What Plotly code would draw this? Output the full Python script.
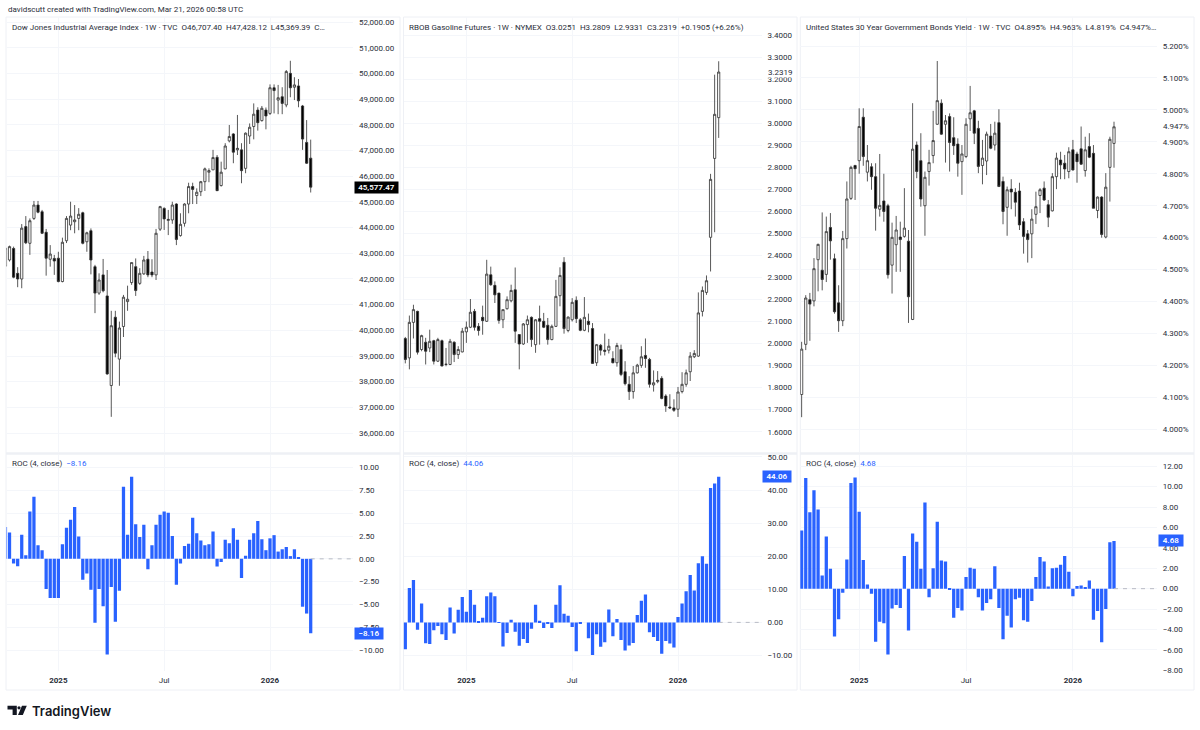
import pandas as pd
import plotly.graph_objects as go

# ---------- data (oldest week first; last bar = week of 2026-03-16) ----------
last_week = "2026-03-16"
x_tick_dates = ["2025-01-06", "2025-07-07", "2026-01-05"]
x_tick_text = ["<b>2025</b>", "Jul", "<b>2026</b>"]

dow_open = [42500,42740,43190,42220,42000,44040,43390,44360,44880,44620,43820,42770,42800,42810,41900,43490,44100,44230,44360,44580,43450,43880,42480,41450,42160,41340,37850,40510,38880,40150,41120,41860,42480,41830,42200,42770,42270,42160,43940,44750,44280,44300,44920,43690,44170,44920,45600,45250,45400,45790,46160,46250,46740,45640,46290,47380,47650,47030,47030,46310,47570,47940,48580,48170,48580,48450,49450,48970,49100,48780,50010,49470,49520,48740,47320,46707.40]
dow_high = [43350,43300,43260,42460,44140,44450,44360,45040,45040,44690,43950,43320,42940,43060,43610,44450,45010,44880,44760,44620,43840,43970,42550,42220,42780,42350,40760,40760,40340,41380,41740,42650,42800,42420,42900,43090,42770,43950,44850,44790,44690,45010,44950,44560,44950,45750,45750,45530,45820,46340,46310,47030,46830,46570,47290,48000,47680,48390,47290,47710,48060,48840,48690,48740,48680,49580,49580,49560,49470,50140,50500,49860,49790,48780,48190,47428.12]
dow_low = [42290,42680,42030,41680,41640,43360,42940,44300,44560,43750,42130,42480,42160,41870,41870,43400,43900,43780,43900,43350,43060,42180,40670,41380,41480,38270,36630,38950,37840,39740,40760,41770,41340,41770,42160,42070,42070,41960,43870,43910,43710,44150,43320,43650,44040,44560,44920,44920,45230,45430,45770,46250,45430,45600,46270,47320,46510,46830,45730,46120,47260,47440,47780,48130,47830,48390,48450,48420,48420,48690,49080,48970,48690,47030,46480,45369.39]
dow_close = [43200,43260,42070,42000,43980,43410,44270,44880,44600,43780,42810,42970,42700,41900,43430,44360,44450,44300,44520,43390,43800,42740,41450,41960,41540,38300,40180,39110,40090,41290,41210,42640,41550,42220,42740,42160,42160,43780,44820,44340,44320,44880,43540,44130,44920,45600,45490,45380,45790,46290,46220,46730,45440,46160,47180,47550,46940,47090,46220,47680,47910,48420,48090,48650,48350,49450,49340,49060,48840,50080,49450,49560,48940,47450,46510,45577.47]
dow_roc = [3.5,2.9,-0.5,-0.8,2.65,0.4,5.2,6.8,1.5,0.95,-3.3,-4.3,-4.3,-4.3,1.6,3.4,4.3,5.7,2.45,-2.3,-1.6,-3.4,-7.0,-3.3,-5.2,-10.5,-3.1,-6.9,-3.5,7.9,2.65,9.0,3.8,2.4,3.75,-1.15,1.5,3.75,4.85,5.2,5.05,2.5,-2.85,-0.5,1.4,1.65,4.5,2.8,2.0,1.5,1.6,3.0,-0.85,-0.35,2.1,1.7,3.35,2.1,-2.1,0.35,2.1,2.8,4.15,2.15,0.95,2.25,2.6,0.8,1.05,1.3,0.3,1.05,0.2,-5.25,-6.0,-8.16]

gas_open = [2.0226,1.935,2.096,2.146,1.973,2.006,1.98,2.013,1.92,2.013,1.905,1.905,2.006,1.95,1.962,2.053,2.074,2.146,2.078,2.119,2.101,2.312,2.264,2.229,2.108,2.158,2.194,2.244,2.041,1.998,2.086,2.119,1.995,2.113,2.101,2.083,2.018,2.078,2.217,2.369,2.059,2.108,2.196,2.108,2.06,2.101,2.068,1.913,1.992,1.97,1.97,1.932,1.913,1.973,1.872,1.815,1.782,1.867,1.901,1.946,1.928,1.812,1.827,1.842,1.762,1.712,1.708,1.702,1.782,1.815,1.872,1.94,1.943,2.146,2.232,2.482,2.84,3.0251]
gas_high = [2.03,2.127,2.176,2.149,2.04,2.026,2.063,2.017,2.026,2.018,1.98,2.021,2.01,1.988,2.071,2.1,2.202,2.157,2.093,2.172,2.38,2.349,2.282,2.23,2.154,2.214,2.267,2.345,2.041,2.093,2.127,2.123,2.111,2.172,2.139,2.116,2.086,2.289,2.346,2.392,2.123,2.206,2.214,2.116,2.211,2.136,2.093,1.998,1.998,2.045,2.021,1.965,2.003,1.995,1.92,1.852,1.898,1.908,1.988,2.023,1.935,1.878,1.875,1.852,1.77,1.77,1.747,1.803,1.87,1.882,1.961,1.97,2.232,2.259,2.309,2.77,3.22,3.2809]
gas_low = [1.91,1.883,2.023,1.95,1.965,1.905,1.961,1.905,1.916,1.897,1.897,1.902,1.916,1.93,1.96,2.003,2.07,2.059,2.036,2.04,2.098,2.262,2.184,2.09,2.07,2.154,2.187,2.003,1.883,1.994,2.003,1.985,1.958,1.995,2.07,1.995,2.015,2.075,2.169,2.045,2.051,2.1,2.093,2.056,2.056,2.051,1.91,1.898,1.946,1.946,1.955,1.91,1.895,1.852,1.81,1.744,1.75,1.864,1.89,1.89,1.80,1.782,1.82,1.747,1.69,1.703,1.69,1.667,1.774,1.804,1.83,1.934,1.94,2.123,2.221,2.327,2.505,2.9331]
gas_close = [1.9277,2.096,2.154,1.961,2.036,1.965,2.01,1.92,2.018,1.898,1.906,2.01,1.95,1.973,2.056,2.074,2.142,2.074,2.059,2.104,2.315,2.267,2.221,2.105,2.154,2.199,2.241,2.056,1.998,2.089,2.108,2.018,2.108,2.101,2.074,2.018,2.078,2.214,2.309,2.068,2.12,2.187,2.113,2.06,2.119,2.086,1.91,1.995,1.97,1.965,1.988,1.913,1.991,1.86,1.818,1.782,1.867,1.902,1.94,1.932,1.815,1.822,1.833,1.751,1.717,1.708,1.697,1.78,1.815,1.867,1.943,1.955,2.139,2.241,2.285,2.745,3.04,3.2319]
gas_roc = [-8.1,10.4,12.8,-2.2,5.7,-6.3,-6.5,-2.4,-1.1,-3.6,-5.3,4.5,-3.4,3.8,7.7,3.2,9.8,5.3,0.2,1.4,7.9,9.0,7.9,0.1,-7.3,-3.2,0.8,-2.8,-7.1,-5.0,-6.2,-1.9,5.3,0.5,-1.7,-0.5,-1.7,5.3,11.2,2.6,2.0,-1.4,-8.7,-0.4,0.0,-4.8,-9.9,-3.6,-7.4,-6.0,3.9,-4.2,1.0,-5.3,-8.5,-7.0,-6.2,2.2,6.5,8.4,-3.0,-4.4,-5.6,-9.5,-5.6,-6.4,-7.6,1.6,5.7,9.4,14.3,9.6,17.9,20.0,17.7,40.6,42.0,44.06]

yld_open = [4.109,4.266,4.406,4.402,4.531,4.498,4.485,4.632,4.534,4.396,4.34,4.597,4.723,4.826,4.841,4.977,4.805,4.822,4.791,4.689,4.715,4.7,4.514,4.578,4.602,4.604,4.589,4.344,4.89,4.841,4.7,4.807,4.857,4.955,5.021,4.955,4.979,4.913,4.893,4.838,4.854,4.972,4.997,4.942,4.826,4.84,4.918,4.89,4.96,4.776,4.695,4.752,4.742,4.746,4.65,4.612,4.612,4.673,4.732,4.755,4.703,4.684,4.791,4.843,4.833,4.807,4.875,4.862,4.878,4.81,4.885,4.864,4.685,4.727,4.602,4.82,4.895]
yld_high = [4.274,4.42,4.427,4.536,4.581,4.679,4.666,4.677,4.55,4.451,4.621,4.776,4.825,4.828,5.005,5.005,4.89,4.833,4.833,4.862,4.8,4.706,4.647,4.668,4.65,4.755,4.624,5.021,4.901,4.927,4.807,4.875,4.997,5.153,5.033,4.984,4.989,4.977,4.911,4.89,4.974,5.075,5.0,4.966,4.906,4.932,4.956,4.963,5.002,4.791,4.76,4.783,4.755,4.772,4.661,4.624,4.689,4.744,4.755,4.776,4.718,4.802,4.866,4.869,4.859,4.883,4.906,4.869,4.948,4.916,4.927,4.89,4.729,4.73,4.802,4.916,4.963]
yld_low = [4.038,4.248,4.277,4.385,4.432,4.435,4.461,4.531,4.362,4.305,4.323,4.566,4.718,4.718,4.80,4.825,4.776,4.75,4.622,4.666,4.65,4.472,4.425,4.493,4.493,4.6,4.333,4.342,4.786,4.697,4.606,4.763,4.833,4.953,4.922,4.835,4.807,4.859,4.791,4.734,4.849,4.934,4.893,4.802,4.767,4.796,4.877,4.873,4.76,4.642,4.606,4.689,4.666,4.624,4.55,4.522,4.536,4.643,4.677,4.715,4.633,4.682,4.752,4.783,4.783,4.786,4.81,4.772,4.828,4.791,4.849,4.692,4.661,4.6,4.598,4.713,4.819]
yld_close = [4.251,4.411,4.392,4.503,4.579,4.469,4.619,4.59,4.368,4.34,4.597,4.721,4.82,4.816,4.948,4.854,4.841,4.791,4.692,4.701,4.682,4.484,4.601,4.624,4.594,4.63,4.415,4.877,4.807,4.721,4.789,4.835,4.904,5.029,4.924,4.966,4.898,4.888,4.833,4.862,4.955,4.991,4.927,4.823,4.849,4.924,4.88,4.927,4.76,4.682,4.75,4.743,4.711,4.64,4.604,4.594,4.658,4.697,4.75,4.718,4.664,4.791,4.849,4.828,4.815,4.869,4.812,4.838,4.83,4.875,4.852,4.692,4.727,4.61,4.758,4.908,4.947]
yld_roc = [5.7,10.85,7.5,9.65,7.75,1.3,5.1,1.95,-4.7,-3.0,-0.4,2.85,10.35,10.9,7.55,2.8,0.42,-0.5,-5.2,-3.25,-3.4,-6.45,-1.95,-1.6,-1.9,3.2,-4.1,5.4,4.6,1.95,8.45,-0.85,2.0,6.55,2.75,2.65,-0.1,-2.85,-1.9,-2.15,1.15,2.05,1.95,-0.85,-2.15,-1.4,-1.05,2.2,-1.9,-4.95,-2.65,-3.8,-1.05,-0.9,-3.1,-3.25,-1.2,1.15,3.1,2.65,0.2,2.0,2.05,2.35,3.2,1.65,-0.75,0.25,0.3,0.08,0.8,-3.05,-2.2,-5.25,-2.0,4.55,4.68]

dow_ticks = [36000,37000,38000,39000,40000,41000,42000,43000,44000,45000,46000,47000,48000,49000,50000,51000,52000]
dow_tick_text = ["36,000.00","37,000.00","38,000.00","39,000.00","40,000.00","41,000.00","42,000.00","43,000.00","44,000.00","45,000.00","46,000.00","47,000.00","48,000.00","49,000.00","50,000.00","51,000.00","52,000.00"]
gas_ticks = [1.6,1.7,1.8,1.9,2.0,2.1,2.2,2.3,2.4,2.5,2.6,2.7,2.8,2.9,3.0,3.1,3.2,3.3,3.4]
gas_tick_text = ["1.6000","1.7000","1.8000","1.9000","2.0000","2.1000","2.2000","2.3000","2.4000","2.5000","2.6000","2.7000","2.8000","2.9000","3.0000","3.1000","3.2000","3.3000","3.4000"]
yld_ticks = [4.0,4.1,4.2,4.3,4.4,4.5,4.6,4.7,4.8,4.9,5.0,5.1,5.2]
yld_tick_text = ["4.000%","4.100%","4.200%","4.300%","4.400%","4.500%","4.600%","4.700%","4.800%","4.900%","5.000%","5.100%","5.200%"]
dow_roc_ticks = [-10,-7.5,-5,-2.5,0,2.5,5,7.5,10]
dow_roc_text = ["−10.00","−7.50","−5.00","−2.50","0.00","2.50","5.00","7.50","10.00"]
gas_roc_ticks = [-10,0,10,20,30,40,50]
gas_roc_text = ["−10.00","0.00","10.00","20.00","30.00","40.00","50.00"]
yld_roc_ticks = [-8,-6,-4,-2,0,2,4,6,8,10,12]
yld_roc_text = ["−8.00","−6.00","−4.00","−2.00","0.00","2.00","4.00","6.00","8.00","10.00","12.00"]

for a in (dow_open, dow_high, dow_low, dow_close, dow_roc):
    assert len(a) == 76
for a in (gas_open, gas_high, gas_low, gas_close, gas_roc):
    assert len(a) == 78
for a in (yld_open, yld_high, yld_low, yld_close, yld_roc):
    assert len(a) == 77

# ---------- styling / geometry ----------
W, H = 1200, 730
TEXT = "#2a2e39"
FONT = "Roboto"
FS = 8.0
GRID = "#f4f6fa"
BORDER = "#eef0f5"
BLUE = "#2962ff"


def px(v):
    return v / W


def py(v):
    return 1 - v / H


panels = [
    dict(left=6.5, right=353, last=310.7, step=4.07, box=(6, 400),
         o=dow_open, h=dow_high, l=dow_low, c=dow_close, roc=dow_roc,
         main_range=[35260, 52206], roc_range=[-12.3, 11.39],
         ticks=dow_ticks, tick_text=dow_tick_text, roc_ticks=dow_roc_ticks, roc_text=dow_roc_text,
         title="Dow Jones Industrial Average Index · 1W · TVC  O46,707.40  H47,428.12  L45,369.39  C…",
         roc_title="−8.16", roc_box=(354, 28, "−8.16", -8.16)),
    dict(left=403.5, right=761.5, last=718.7, step=4.07, box=(403.5, 797),
         o=gas_open, h=gas_high, l=gas_low, c=gas_close, roc=gas_roc,
         main_range=[1.5079, 3.4817], roc_range=[-14.7, 50.6],
         ticks=gas_ticks, tick_text=gas_tick_text, roc_ticks=gas_roc_ticks, roc_text=gas_roc_text,
         title="RBOB Gasoline Futures · 1W · NYMEX  O3.0251  H3.2809  L2.9331  C3.2319  +0.1905 (+6.26%)",
         roc_title="44.06", roc_box=(762, 28, "44.06", 44.06)),
    dict(left=800.3, right=1156.7, last=1114, step=4.11, box=(800.3, 1194),
         o=yld_open, h=yld_high, l=yld_low, c=yld_close, roc=yld_roc,
         main_range=[3.929, 5.2908], roc_range=[-8.07, 13.1],
         ticks=yld_ticks, tick_text=yld_tick_text, roc_ticks=yld_roc_ticks, roc_text=yld_roc_text,
         title="United States 30 Year Government Bonds Yield · 1W · TVC  O4.895%  H4.963%  L4.819%  C4.947%…",
         roc_title="4.68", roc_box=(1157.7, 24, "4.68", 4.68)),
]

fig = go.Figure()
layout = dict()
annotations = []
shapes = []
MAIN_TOP, MAIN_BOT, ROC_TOP, ROC_BOT, PANEL_BOT = 17, 452, 455, 671, 690
end = pd.Timestamp(last_week)

for i, p in enumerate(panels):
    n = len(p["c"])
    dates = pd.date_range(end=end, periods=n, freq="7D")
    per_day = p["step"] / 7
    x_range = [end - pd.Timedelta(days=(p["last"] - p["left"]) / per_day),
               end + pd.Timedelta(days=(p["right"] - p["last"]) / per_day)]
    xm, xr = 2 * i + 1, 2 * i + 2
    ym, yr = 2 * i + 1, 2 * i + 2
    name = lambda a, k: a + ("" if k == 1 else str(k))

    fig.add_trace(go.Candlestick(
        x=dates, open=p["o"], high=p["h"], low=p["l"], close=p["c"],
        xaxis=name("x", xm), yaxis=name("y", ym), whiskerwidth=0, showlegend=False,
        increasing=dict(line=dict(color="#2e2e2e", width=0.8), fillcolor="#ffffff"),
        decreasing=dict(line=dict(color="#2e2e2e", width=0.8), fillcolor="#000000"),
    ))
    fig.add_trace(go.Bar(
        x=dates, y=p["roc"], xaxis=name("x", xr), yaxis=name("y", yr),
        marker=dict(color=BLUE, line=dict(width=0)), showlegend=False,
    ))
    fig.add_trace(go.Scatter(
        x=[end, x_range[1]], y=[0, 0], mode="lines",
        xaxis=name("x", xr), yaxis=name("y", yr), showlegend=False,
        line=dict(color="#b8bbc4", width=1, dash="4px,5px"),
    ))

    dom_x = [px(p["left"]), px(p["right"])]
    common_x = dict(domain=dom_x, type="date", range=x_range, tickmode="array",
                    tickvals=x_tick_dates, ticktext=x_tick_text, showgrid=True, gridcolor=GRID,
                    gridwidth=1, zeroline=False, showline=False, ticks="",
                    tickfont=dict(family=FONT, size=FS, color=TEXT), rangeslider=dict(visible=False))
    common_y = dict(side="right", tickmode="array", showgrid=True, gridcolor=GRID, gridwidth=1,
                    zeroline=False, showline=False, ticks="", ticklabelstandoff=5,
                    tickfont=dict(family=FONT, size=FS, color=TEXT))
    layout[name("xaxis", xm)] = dict(common_x, anchor=name("y", ym), showticklabels=False)
    layout[name("xaxis", xr)] = dict(common_x, anchor=name("y", yr), showticklabels=True, ticklabelstandoff=3)
    layout[name("yaxis", ym)] = dict(common_y, anchor=name("x", xm), domain=[py(MAIN_BOT), py(MAIN_TOP)],
                                     range=p["main_range"], tickvals=p["ticks"], ticktext=p["tick_text"])
    layout[name("yaxis", yr)] = dict(common_y, anchor=name("x", xr), domain=[py(ROC_BOT), py(ROC_TOP)],
                                     range=p["roc_range"], tickvals=p["roc_ticks"], ticktext=p["roc_text"])

    # panel frame and pane separator
    shapes.append(dict(type="rect", xref="paper", yref="paper", layer="below",
                       x0=px(p["box"][0]), x1=px(p["box"][1]), y0=py(PANEL_BOT), y1=py(MAIN_TOP),
                       line=dict(color=BORDER, width=1), fillcolor="rgba(0,0,0,0)"))
    shapes.append(dict(type="line", xref="paper", yref="paper", layer="below",
                       x0=px(p["box"][0]), x1=px(p["box"][1]), y0=py(453.5), y1=py(453.5),
                       line=dict(color="#eef0f5", width=2.5)))

    # legends
    annotations.append(dict(xref="paper", yref="paper", x=px(p["box"][0] + 3.5), y=py(27), xanchor="left",
                            yanchor="middle", showarrow=False, text=p["title"],
                            font=dict(family=FONT, size=FS, color=TEXT)))
    annotations.append(dict(xref="paper", yref="paper", x=px(p["box"][0] + 3.5), y=py(463.5), xanchor="left",
                            yanchor="middle", showarrow=False,
                            text='ROC (4, close)  <span style="color:#2962ff">' + p["roc_title"] + "</span>",
                            font=dict(family=FONT, size=FS, color=TEXT)))

    # last ROC value tag
    bx, bw, btxt, bval = p["roc_box"]
    annotations.append(dict(xref="paper", yref=name("y", yr), x=px(bx), y=bval, xanchor="left", yanchor="middle",
                            showarrow=False, text=btxt, width=bw, height=11, bgcolor=BLUE, borderpad=0,
                            align="center", font=dict(family=FONT, size=FS, color="#ffffff", weight=600)))

# last price tags in the main panes
annotations.append(dict(xref="paper", yref="y", x=px(354), y=45577.47, xanchor="left", yanchor="middle",
                        showarrow=False, text="45,577.47", width=43, height=11, bgcolor="#000000", borderpad=0,
                        align="center", font=dict(family=FONT, size=FS, color="#ffffff", weight=600)))
annotations.append(dict(xref="paper", yref="y3", x=px(766.5), y=3.2319, xanchor="left", yanchor="middle",
                        showarrow=False, text="3.2319", bgcolor="#ffffff", borderpad=0,
                        font=dict(family=FONT, size=FS, color=TEXT)))
annotations.append(dict(xref="paper", yref="y5", x=px(1162), y=4.947, xanchor="left", yanchor="middle",
                        showarrow=False, text="4.947%", bgcolor="#ffffff", borderpad=0,
                        font=dict(family=FONT, size=FS, color=TEXT)))

# page header and footer
annotations.append(dict(xref="paper", yref="paper", x=px(5.5), y=py(9.5), xanchor="left", yanchor="middle",
                        showarrow=False, text="davidscutt created with TradingView.com, Mar 21, 2026 00:58 UTC",
                        font=dict(family=FONT, size=8.0, color=TEXT)))
annotations.append(dict(xref="paper", yref="paper", x=px(30), y=py(710.5), xanchor="left", yanchor="middle",
                        showarrow=False, text="TradingView",
                        font=dict(family="Inter", size=13, color="#131722", weight=600)))


def path(points):
    return "M " + " L ".join(f"{px(a):.5f},{py(b):.5f}" for a, b in points) + " Z"


LOGO = "#131722"
shapes.append(dict(type="path", xref="paper", yref="paper", fillcolor=LOGO, line=dict(width=0),
                   path=path([(7.5, 705.8), (16.8, 705.8), (16.8, 715), (12.6, 715), (12.6, 709.6), (7.5, 709.6)])))
shapes.append(dict(type="circle", xref="paper", yref="paper", fillcolor=LOGO, line=dict(width=0),
                   x0=px(17.4), x1=px(20.6), y0=py(709.4), y1=py(706.2)))
shapes.append(dict(type="path", xref="paper", yref="paper", fillcolor=LOGO, line=dict(width=0),
                   path=path([(22, 705.8), (26.8, 705.8), (22.8, 715), (18, 715)])))

fig.update_layout(
    width=W, height=H, autosize=False, margin=dict(l=0, r=0, t=0, b=0, autoexpand=False),
    paper_bgcolor="#ffffff", plot_bgcolor="#ffffff", showlegend=False,
    bargap=0.2, boxgap=0.22, annotations=annotations, shapes=shapes,
    font=dict(family=FONT, size=9, color=TEXT), dragmode=False, **layout,
)

fig.write_html("out.html", config={"displayModeBar": False},
               post_script="document.body.style.margin='0';document.body.style.overflow='hidden';")
